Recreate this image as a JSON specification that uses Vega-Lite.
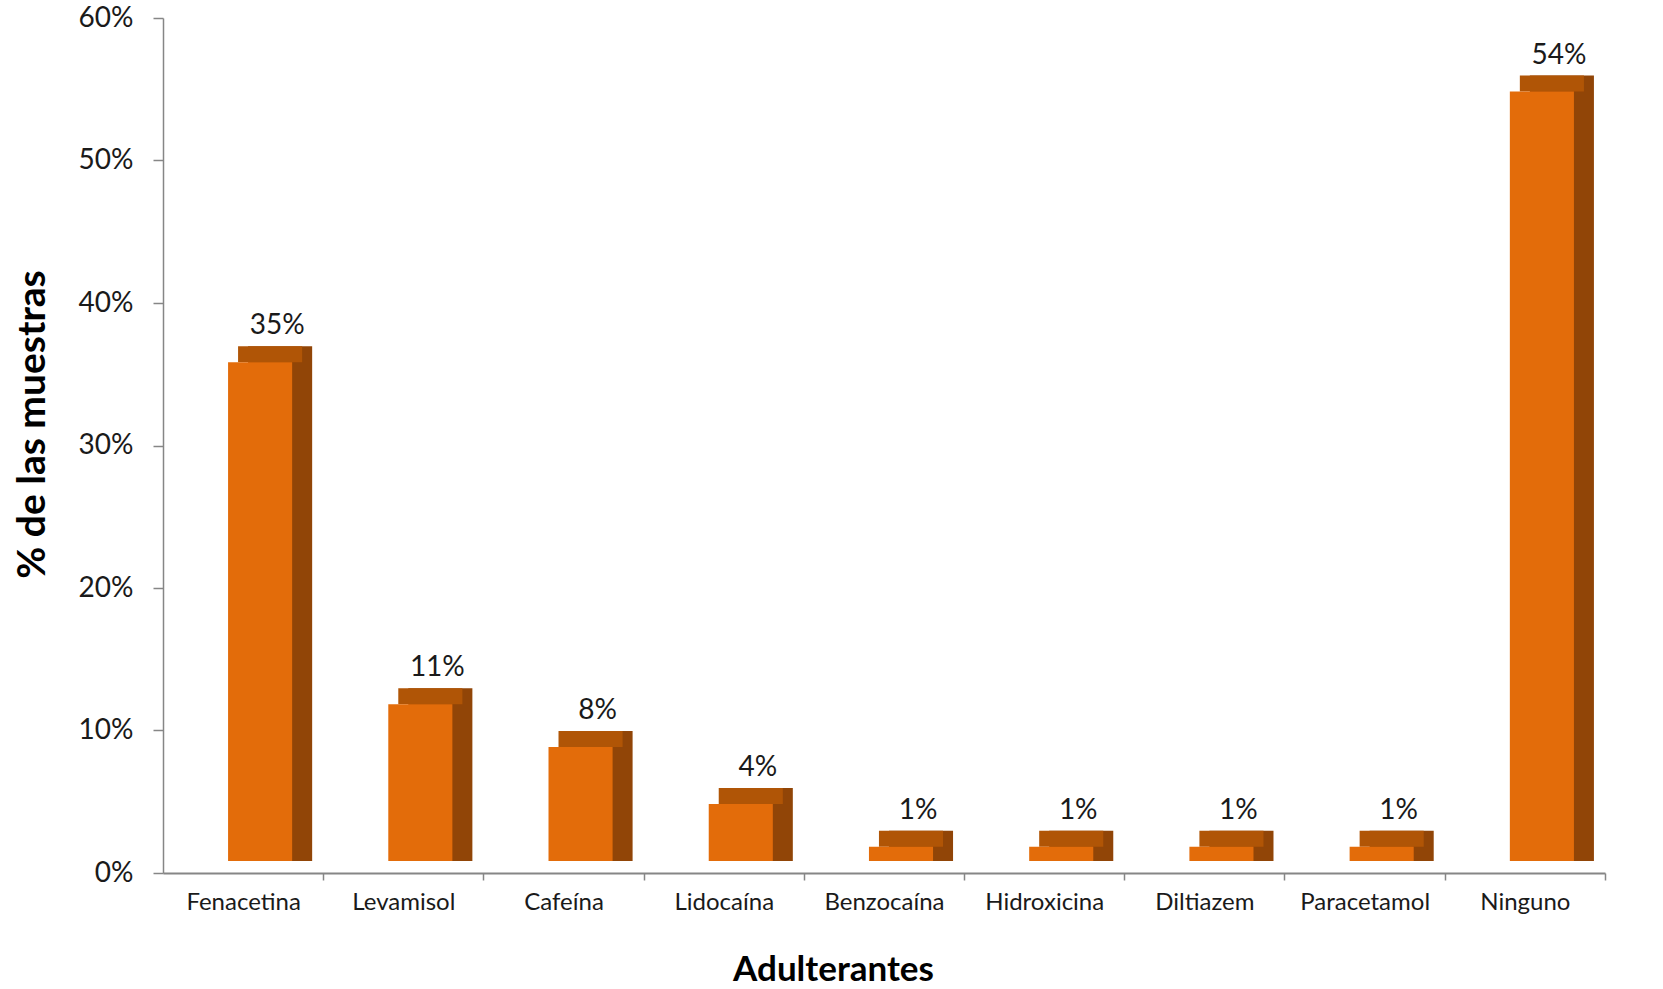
{
  "$schema": "https://vega.github.io/schema/vega-lite/v6.json",
  "width": 1442,
  "height": 855,
  "autosize": {"type": "none"},
  "padding": {"left": 163, "top": 18, "right": 58, "bottom": 116},
  "background": "white",
  "config": {
    "view": {"stroke": null},
    "font": "Lato",
    "axis": {"labelFont": "Lato", "titleFont": "Lato", "labelColor": "#1a1a1a", "titleColor": "#000000"}
  },
  "data": {
    "values": [
      {"adulterante": "Fenacetina", "pct": 0.35},
      {"adulterante": "Levamisol", "pct": 0.11},
      {"adulterante": "Cafeína", "pct": 0.08},
      {"adulterante": "Lidocaína", "pct": 0.04},
      {"adulterante": "Benzocaína", "pct": 0.01},
      {"adulterante": "Hidroxicina", "pct": 0.01},
      {"adulterante": "Diltiazem", "pct": 0.01},
      {"adulterante": "Paracetamol", "pct": 0.01},
      {"adulterante": "Ninguno", "pct": 0.54}
    ]
  },
  "encoding": {
    "x": {
      "field": "adulterante",
      "type": "nominal",
      "sort": null,
      "scale": {"paddingInner": 0.6, "paddingOuter": 0.3},
      "axis": {
        "title": "Adulterantes",
        "titleFontSize": 35,
        "titleFontWeight": "bold",
        "titleX": 670,
        "titleY": 96,
        "titleAlign": "center",
        "titleBaseline": "middle",
        "labelAngle": 0,
        "labelFontSize": 24,
        "labelPadding": 10,
        "tickOffset": 80,
        "labelOffset": -80,
        "tickSize": 7,
        "tickColor": "#868686",
        "domainColor": "#868686",
        "domainWidth": 2,
        "tickWidth": 1.5
      }
    },
    "y": {
      "field": "pct",
      "type": "quantitative",
      "scale": {"domain": [0, 0.6], "nice": false},
      "axis": {
        "title": "% de las muestras",
        "titleFontSize": 39,
        "titleFontWeight": "bold",
        "titleX": -131,
        "titleY": 406,
        "titleAlign": "center",
        "titleBaseline": "middle",
        "titleAngle": -90,
        "values": [0, 0.1, 0.2, 0.3, 0.4, 0.5, 0.6],
        "format": ".0%",
        "labelFontSize": 28,
        "labelPadding": 20,
        "tickSize": 10,
        "tickColor": "#868686",
        "domainColor": "#868686",
        "domainWidth": 1.5,
        "tickWidth": 1.5,
        "grid": false
      }
    }
  },
  "layer": [
    {
      "mark": {"type": "bar", "color": "#914507", "xOffset": 37, "yOffset": -28, "y2Offset": -12},
      "encoding": {"y2": {"datum": 0}}
    },
    {
      "mark": {"type": "bar", "color": "#B05506", "xOffset": 27, "yOffset": -28, "y2Offset": -12},
      "encoding": {"y2": {"field": "pct"}}
    },
    {"mark": {"type": "bar", "color": "#E36C0A", "xOffset": 17, "yOffset": -12, "y2Offset": -12}},
    {
      "mark": {"type": "text", "dx": 34, "dy": -48, "baseline": "middle", "fontSize": 28, "color": "#1a1a1a", "font": "Lato"},
      "encoding": {"text": {"field": "pct", "type": "quantitative", "format": ".0%"}}
    }
  ]
}
